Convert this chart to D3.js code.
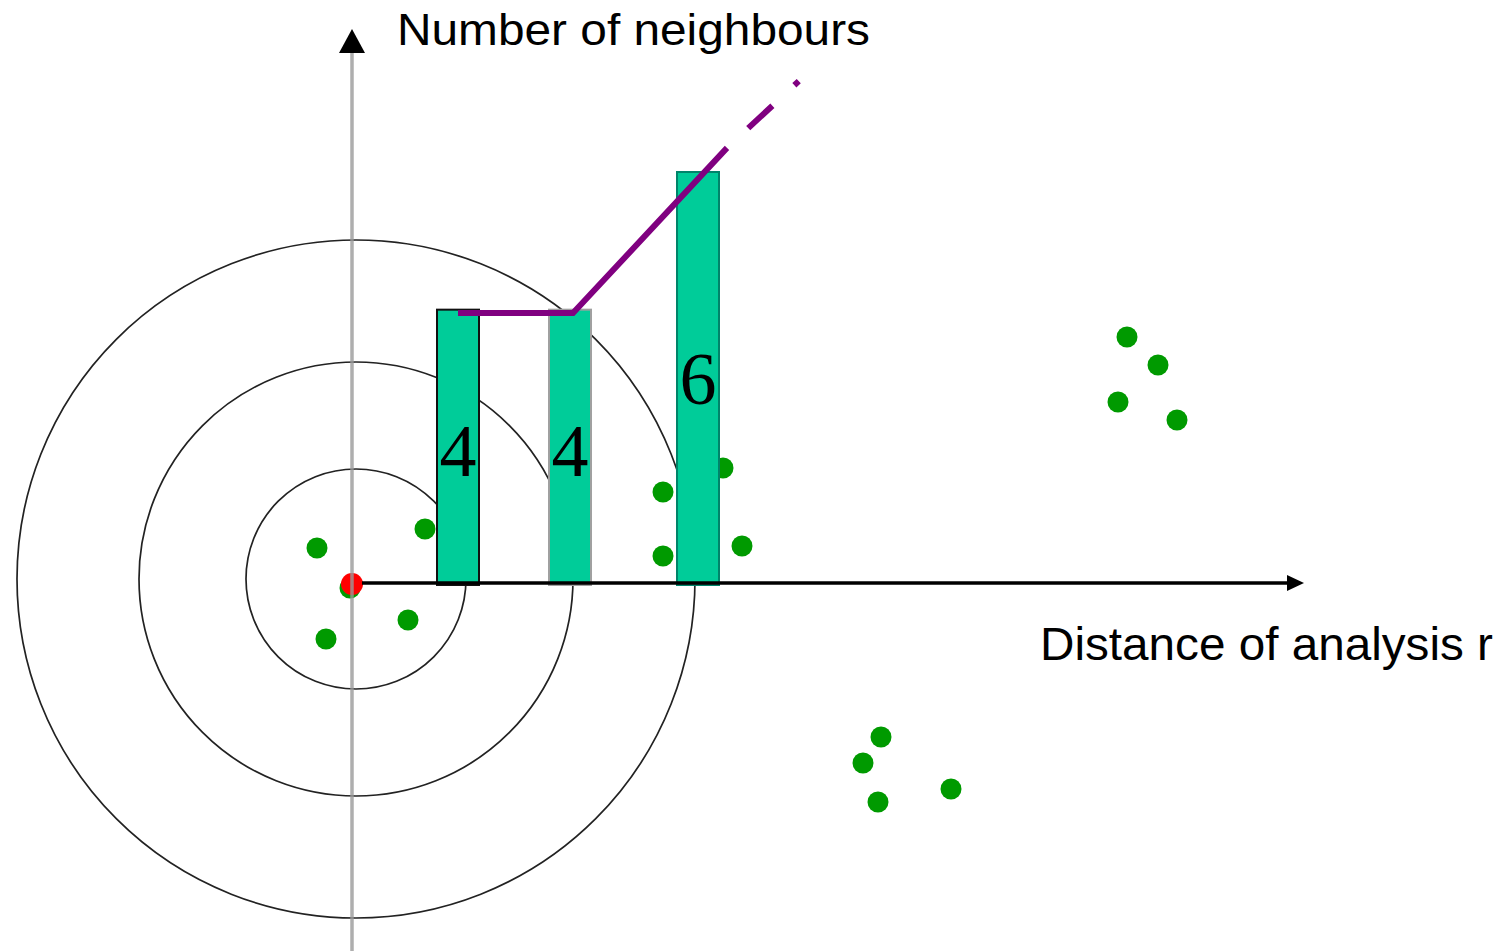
<!DOCTYPE html>
<html>
<head>
<meta charset="utf-8">
<script src="https://cdn.jsdelivr.net/npm/d3@7"></script>
<style>
  html, body { margin: 0; padding: 0; background: #fff; }
  svg { display: block; }
</style>
</head>
<body>
<svg id="chart" width="1509" height="951"></svg>
<script>
// ---- data (spatial units, origin at the focal point) ----
const focalPoint = [0, -0.1];
const ringCentre = [0.4, 0.4];
const ringRadii = [11.0, 21.7, 33.9];

const neighbourX = [-3.5, 7.3, 5.6, -2.6, -0.2, 31.1, 31.1, 37.1, 39.0, 52.9, 51.1, 52.6, 59.9, 77.5, 80.6, 76.6, 82.5];
const neighbourY = [3.5, 5.4, -3.7, -5.6, -0.5, 9.1, 2.7, 11.5, 3.7, -15.4, -18.0, -21.9, -20.6, 24.6, 21.8, 18.1, 16.3];

// bars: distance of analysis r (same spatial units) and number of neighbours
const barDistance = [10.6, 21.8, 34.6];
const barCount = [4, 4, 6];
const barLabels = ["4", "4", "6"];
const labelLevel = [1.58, 1.58, 2.63];   // count level of label baseline

// neighbour curve (purple)
const curveR = [10.6, 22.1, 37.5];
const curveN = [3.95, 3.95, 6.35];
const curveDashR = [37.5, 44.9];
const curveDashN = [6.35, 7.35];

const yAxisTitle = "Number of neighbours";
const xAxisTitle = "Distance of analysis r";

// ---- styles (kept separate) ----
const barStroke = ["#111111", "#a0a0a0", "#00846a"];

// ---- scales ----
const sx = d3.scaleLinear().domain([0, 10]).range([352, 452]);
const sy = d3.scaleLinear().domain([0, 10]).range([583, 483]);
const cy = d3.scaleLinear().domain([0, 6]).range([585, 172]);
const barW = sx(4.2) - sx(0);

const svg = d3.select("#chart");

// rings
svg.append("g").selectAll("circle").data(ringRadii).join("circle")
  .attr("cx", sx(ringCentre[0])).attr("cy", sy(ringCentre[1]))
  .attr("r", d => sx(d) - sx(0))
  .attr("fill", "none").attr("stroke", "#222").attr("stroke-width", 1.7);

// neighbour points
svg.append("g").selectAll("circle").data(neighbourX).join("circle")
  .attr("cx", d => sx(d))
  .attr("cy", (d, i) => sy(neighbourY[i]))
  .attr("r", 10.5)
  .attr("fill", "#009a00");

// focal point
svg.append("circle")
  .attr("cx", sx(focalPoint[0])).attr("cy", sy(focalPoint[1]))
  .attr("r", 11).attr("fill", "#ff0000");

// vertical axis (grey) with arrow
svg.append("line")
  .attr("x1", sx(0)).attr("x2", sx(0))
  .attr("y1", 52).attr("y2", 951)
  .attr("stroke", "#9a9a9a").attr("stroke-opacity", 0.8).attr("stroke-width", 3.5);
svg.append("path")
  .attr("d", `M${sx(0)},29 L${sx(0) + 13},53 L${sx(0) - 13},53 Z`)
  .attr("fill", "#000");

// bars
svg.append("g").selectAll("rect").data(barCount).join("rect")
  .attr("x", (d, i) => sx(barDistance[i]) - barW / 2)
  .attr("y", d => cy(d))
  .attr("width", barW)
  .attr("height", d => cy(0) - cy(d))
  .attr("fill", "#00cc99")
  .attr("stroke", (d, i) => barStroke[i])
  .attr("stroke-width", 2);

// bar labels
svg.append("g").selectAll("text").data(barLabels).join("text")
  .attr("x", (d, i) => sx(barDistance[i]))
  .attr("y", (d, i) => cy(labelLevel[i]))
  .attr("text-anchor", "middle")
  .attr("font-family", "'Liberation Serif', 'Times New Roman', serif")
  .attr("font-size", 74)
  .attr("fill", "#000")
  .text(d => d);

// horizontal axis (black) with arrow
svg.append("line")
  .attr("x1", 362).attr("x2", 1290)
  .attr("y1", sy(0)).attr("y2", sy(0))
  .attr("stroke", "#000").attr("stroke-width", 3.5);
svg.append("path")
  .attr("d", `M1304,${sy(0)} L1287,${sy(0) - 8} L1287,${sy(0) + 8} Z`)
  .attr("fill", "#000");

// purple curve
const line = d3.line().x(d => sx(d[0])).y(d => cy(d[1]));
svg.append("path")
  .datum(curveR.map((r, i) => [r, curveN[i]]))
  .attr("d", line)
  .attr("fill", "none").attr("stroke", "#800080").attr("stroke-width", 6)
  .attr("stroke-linejoin", "miter");
svg.append("path")
  .datum(curveDashR.map((r, i) => [r, curveDashN[i]]))
  .attr("d", line)
  .attr("fill", "none").attr("stroke", "#800080").attr("stroke-width", 6)
  .attr("stroke-dasharray", "0,29,33,30,6,60");

// axis titles
svg.append("text")
  .attr("x", 397).attr("y", 45)
  .attr("font-family", "'Liberation Sans', Arial, sans-serif")
  .attr("font-size", 45).attr("fill", "#000")
  .attr("textLength", 473).attr("lengthAdjust", "spacingAndGlyphs")
  .text(yAxisTitle);
svg.append("text")
  .attr("x", 1040).attr("y", 660)
  .attr("font-family", "'Liberation Sans', Arial, sans-serif")
  .attr("font-size", 46).attr("fill", "#000")
  .attr("textLength", 453).attr("lengthAdjust", "spacingAndGlyphs")
  .text(xAxisTitle);
</script>
</body>
</html>
